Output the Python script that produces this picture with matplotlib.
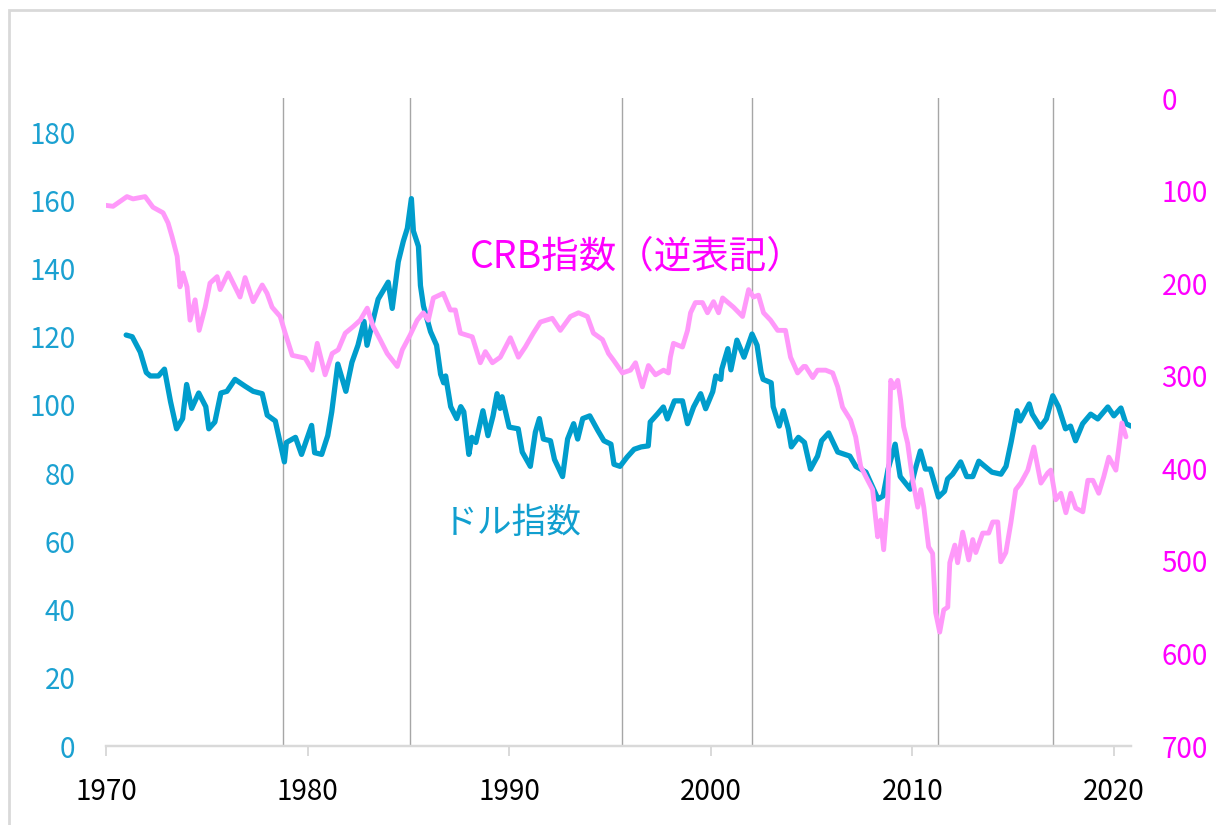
import matplotlib
matplotlib.use("Agg")
import matplotlib.pyplot as plt
from matplotlib.patches import Rectangle

plt.rcParams['font.family'] = ['Noto Sans CJK JP', 'DejaVu Sans']

# ドル指数 (左軸)
dollar_years = [
    1971.0, 1971.3, 1971.7, 1972.0, 1972.2, 1972.6, 1972.9, 1973.2, 1973.5, 1973.8,
    1974.0, 1974.25, 1974.6, 1974.95, 1975.1, 1975.4, 1975.7, 1976.0, 1976.4, 1976.9,
    1977.3, 1977.75, 1978.0, 1978.4, 1978.85, 1978.95, 1979.4, 1979.7, 1980.2, 1980.35,
    1980.7, 1981.0, 1981.2, 1981.5, 1981.9, 1982.2, 1982.5, 1982.8, 1982.95, 1983.5,
    1984.0, 1984.2, 1984.5, 1984.75, 1984.95, 1985.15, 1985.25, 1985.5, 1985.6, 1985.75,
    1986.1, 1986.4, 1986.6, 1986.75, 1986.85, 1987.1, 1987.4, 1987.6, 1987.75, 1988.0,
    1988.15, 1988.35, 1988.7, 1988.95, 1989.2, 1989.4, 1989.55, 1989.65, 1990.0, 1990.45,
    1990.65, 1991.05, 1991.3, 1991.5, 1991.7, 1992.05, 1992.25, 1992.65, 1992.9, 1993.2,
    1993.4, 1993.65, 1994.0, 1994.4, 1994.7, 1995.05, 1995.2, 1995.5, 1995.85, 1996.2,
    1996.55, 1996.9, 1997.0, 1997.35, 1997.65, 1997.85, 1998.2, 1998.6, 1998.85, 1999.15,
    1999.5, 1999.75, 2000.1, 2000.25, 2000.5, 2000.55, 2000.85, 2001.0, 2001.3, 2001.65,
    2002.05, 2002.3, 2002.5, 2002.6, 2003.0, 2003.1, 2003.4, 2003.6, 2003.85, 2004.0,
    2004.35, 2004.65, 2004.95, 2005.3, 2005.5, 2005.85, 2006.3, 2006.9, 2007.2, 2007.7,
    2008.3, 2008.55, 2008.8, 2009.15, 2009.4, 2009.9, 2010.15, 2010.4, 2010.65, 2010.9,
    2011.3, 2011.6, 2011.75, 2012.0, 2012.4, 2012.7, 2013.0, 2013.3, 2013.6, 2013.95,
    2014.4, 2014.65, 2014.9, 2015.2, 2015.35, 2015.8, 2015.95, 2016.35, 2016.65, 2016.97,
    2017.25, 2017.6, 2017.85, 2018.1, 2018.45, 2018.85, 2019.2, 2019.7, 2020.0, 2020.35,
    2020.6, 2020.85,
]
dollar_values = [
    120.5, 120.0, 115.5, 109.5, 108.5, 108.5, 110.5, 101.0, 93.0, 96.0,
    106.0, 99.0, 103.5, 99.5, 93.0, 95.0, 103.5, 104.0, 107.5, 105.5,
    104.0, 103.3, 97.0, 95.3, 83.3, 89.0, 90.5, 85.5, 94.0, 86.0,
    85.5, 91.0, 98.0, 112.0, 104.0, 112.5, 117.5, 124.5, 117.5, 131.0,
    136.0, 128.3, 142.0, 148.0, 151.8, 160.5, 151.0, 146.5, 135.0, 129.0,
    121.5, 117.5, 109.0, 106.5, 108.5, 99.5, 96.0, 99.5, 98.0, 85.5,
    90.5, 89.0, 98.3, 91.0, 96.8, 103.3, 99.0, 102.4, 93.5, 93.0,
    86.2, 82.0, 92.0, 96.0, 90.0, 89.5, 84.0, 79.0, 90.0, 94.5,
    90.0, 96.0, 96.8, 92.5, 89.5, 88.5, 82.6, 82.0, 84.7, 87.0,
    87.7, 88.0, 95.0, 97.3, 99.4, 95.9, 101.2, 101.2, 94.5, 99.4,
    103.3, 98.9, 103.9, 108.5, 107.5, 110.5, 116.5, 110.3, 119.0, 114.0,
    120.8, 117.5, 109.5, 107.5, 106.5, 99.5, 93.8, 98.3, 93.0, 87.7,
    90.5, 89.0, 81.2, 85.0, 89.5, 91.8, 86.2, 85.0, 82.0, 80.3,
    72.4, 73.3, 81.2, 88.5, 79.0, 75.3, 81.2, 86.5, 81.2, 81.2,
    73.0, 74.7, 78.3, 79.7, 83.3, 79.0, 79.0, 83.5, 82.0, 80.3,
    79.7, 82.0, 89.0, 98.3, 95.3, 100.3, 97.3, 93.5, 95.9, 102.7,
    99.5, 93.0, 93.8, 89.5, 94.5, 97.3, 95.9, 99.4, 96.8, 99.1,
    94.5, 93.8,
]

# CRB指数 (右軸, 逆目盛)
crb_years = [
    1970.0, 1970.35, 1971.04, 1971.34, 1971.94, 1972.33, 1972.83, 1973.08, 1973.28, 1973.53,
    1973.67, 1973.82, 1974.02, 1974.17, 1974.42, 1974.62, 1974.92, 1975.16, 1975.51, 1975.66,
    1976.06, 1976.65, 1976.9, 1977.3, 1977.75, 1977.99, 1978.24, 1978.64, 1978.89, 1979.24,
    1979.88, 1980.23, 1980.48, 1980.87, 1981.22, 1981.52, 1981.87, 1982.26, 1982.61, 1982.96,
    1983.26, 1983.6, 1983.95, 1984.45, 1984.7, 1985.09, 1985.44, 1985.74, 1985.99, 1986.24,
    1986.73, 1987.08, 1987.33, 1987.58, 1988.17, 1988.57, 1988.82, 1989.17, 1989.56, 1990.06,
    1990.46, 1990.8, 1991.2, 1991.55, 1992.14, 1992.54, 1993.04, 1993.44, 1993.88, 1994.18,
    1994.63, 1994.93, 1995.17, 1995.62, 1996.02, 1996.27, 1996.61, 1996.91, 1997.26, 1997.66,
    1997.9, 1998.0, 1998.15, 1998.6, 1998.85, 1999.0, 1999.24, 1999.59, 1999.84, 2000.14,
    2000.39, 2000.59, 2001.13, 2001.58, 2001.88, 2002.12, 2002.37, 2002.62, 2002.97, 2003.32,
    2003.71, 2003.96, 2004.31, 2004.61, 2004.71, 2005.06, 2005.3, 2005.7, 2006.05, 2006.3,
    2006.54, 2006.94, 2007.19, 2007.44, 2007.79, 2008.03, 2008.28, 2008.43, 2008.58, 2008.78,
    2008.93, 2009.08, 2009.28, 2009.42, 2009.57, 2009.77, 2010.02, 2010.27, 2010.42, 2010.57,
    2010.81, 2011.01, 2011.16, 2011.36, 2011.56, 2011.76, 2011.86, 2012.11, 2012.25, 2012.5,
    2012.8, 2013.0, 2013.15, 2013.49, 2013.79, 2013.99, 2014.24, 2014.39, 2014.64, 2014.89,
    2015.13, 2015.38, 2015.73, 2016.03, 2016.38, 2016.72, 2016.87, 2017.12, 2017.37, 2017.62,
    2017.86, 2018.11, 2018.46, 2018.71, 2018.96, 2019.25, 2019.5, 2019.75, 2020.1, 2020.25,
    2020.4, 2020.6,
]
crb_values = [
    116, 117, 106.5, 109, 106.5, 118, 124, 135, 150, 171,
    204, 189, 204, 240, 218, 251, 226, 200, 193, 207,
    189, 215, 194, 220, 202, 211, 226, 236, 254, 278,
    281, 294, 265, 299, 276, 272, 254, 247, 240, 227,
    247, 261, 276, 290, 272, 256, 240, 232, 240, 216,
    211, 229, 229, 254, 258, 286, 274, 286, 280, 259,
    280, 269, 254, 242, 238, 251, 236, 232, 236, 254,
    261, 276, 283, 297, 294, 286, 312, 289, 299, 294,
    297, 280, 265, 269, 251, 232, 221, 221, 232, 220,
    232, 216, 226, 236, 207, 215, 213, 232, 240, 251,
    251, 280, 297, 290, 290, 302, 294, 294, 297, 312,
    334, 348, 366, 398, 413, 423, 474, 456, 488, 434,
    305, 313, 305, 326, 355, 373, 413, 442, 423, 442,
    485, 492, 556, 577, 553, 550, 502, 483, 502, 469,
    499, 477, 491, 470, 470, 458, 458, 501, 491, 459,
    423, 416, 402, 377, 416, 405, 402, 434, 427, 448,
    427, 443, 447, 413, 413, 427, 409, 388, 402, 377,
    351, 366,
]

# 転換点の縦線
turn_years = [1978.8, 1985.1, 1995.6, 2002.05, 2011.3, 2017.0]
x_ticks = [1970, 1980, 1990, 2000, 2010, 2020]

blue = '#009DCC'
pink = '#FF99FA'
magenta = '#FF00FF'
grid_grey = '#D9D9D9'

fig = plt.figure(figsize=(12.16, 8.25), dpi=100)
ax = fig.add_axes([106 / 1216, 1 - 746 / 825, 1025 / 1216, 648 / 825])
ax2 = ax.twinx()

for yr in turn_years:
    ax.axvline(yr, color='#A6A6A6', lw=1.0, zorder=1)

ax.plot(dollar_years, dollar_values, color=blue, lw=3.8, zorder=3,
        solid_joinstyle='round', solid_capstyle='round')
ax2.plot(crb_years, crb_values, color=pink, lw=3.5, zorder=3,
         solid_joinstyle='round', solid_capstyle='round')

ax.set_xlim(1970, 2020.85)
ax.set_ylim(0, 190)
ax2.set_ylim(700, 0)

ax.set_xticks(x_ticks)
ax.set_yticks(range(0, 181, 20))
ax2.set_yticks(range(0, 701, 100))

for a in (ax, ax2):
    for side in ('top', 'left', 'right'):
        a.spines[side].set_visible(False)
    a.spines['bottom'].set_color(grid_grey)
    a.spines['bottom'].set_linewidth(1.6)

ax.tick_params(axis='x', length=7, width=1.4, color=grid_grey, pad=15,
               labelsize=20, labelcolor='black')
ax.tick_params(axis='y', length=0, pad=22, labelsize=20, labelcolor='#1BA1D1')
ax2.tick_params(axis='y', length=0, pad=22, labelsize=20, labelcolor=magenta)

ax.text(0.355, 0.755, 'CRB指数（逆表記）', transform=ax.transAxes,
        fontsize=27, color=magenta, va='center', ha='left')
ax.text(0.329, 0.343, 'ドル指数', transform=ax.transAxes,
        fontsize=25, color='#119FCF', va='center', ha='left')

fig.patches.append(Rectangle((9 / 1216, -0.02), 1.05, 1.02 - 10 / 825,
                             transform=fig.transFigure, fill=False,
                             edgecolor=grid_grey, lw=2))

fig.savefig('out.png', dpi=100)
